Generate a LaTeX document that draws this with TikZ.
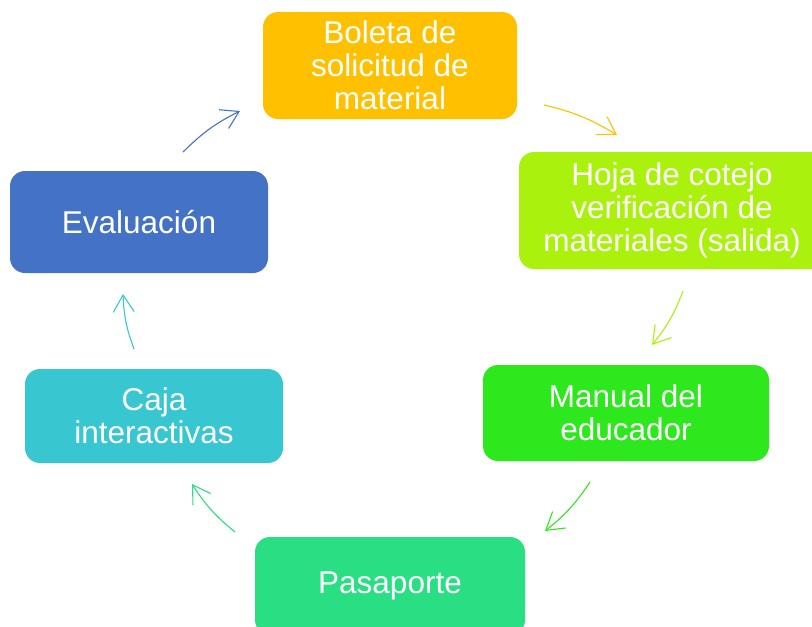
\documentclass[tikz,border=0pt]{standalone}
\usepackage{fontspec}
\setmainfont{Liberation Sans}
\usetikzlibrary{arrows.meta}
\definecolor{boleta}{RGB}{255,192,0}
\definecolor{hoja}{RGB}{170,242,14}
\definecolor{manual}{RGB}{46,232,30}
\definecolor{pasaporte}{RGB}{42,222,132}
\definecolor{caja}{RGB}{56,198,208}
\definecolor{evaluacion}{RGB}{68,114,196}
\begin{document}
\begin{tikzpicture}[x=1pt,y=-1pt,
  paso/.style={rounded corners=15pt, text=white, align=center, inner sep=0pt,
    font=\fontsize{31.5}{33}\selectfont},
  flecha/.style={line width=1.1pt, -{Straight Barb[length=17pt,width=21pt]}, bend left=9}]
\useasboundingbox (0,0) rectangle (812,627);
% pasos del ciclo
\node[paso, fill=boleta, minimum width=254pt, minimum height=107pt] (boleta) at (390,65.5) {Boleta de\\solicitud de\\material};
\node[paso, fill=hoja, minimum width=306pt, minimum height=117pt] (hoja) at (672,210.5) {Hoja de cotejo\\verificación de\\materiales (salida)};
\node[paso, fill=manual, minimum width=286pt, minimum height=96pt] (manual) at (626,413) {Manual del\\educador};
\node[paso, fill=pasaporte, minimum width=270pt, minimum height=98pt] (pasaporte) at (390,586) {Pasaporte};
\node[paso, fill=caja, minimum width=258pt, minimum height=94pt] (caja) at (154,416) {Caja\\interactivas};
\node[paso, fill=evaluacion, minimum width=258pt, minimum height=102pt] (evaluacion) at (139,222) {Evaluación};
% extremos de las flechas
\coordinate (b1) at (544,105);
\coordinate (b2) at (617,135);
\coordinate (h1) at (683,291);
\coordinate (h2) at (652,345);
\coordinate (m1) at (590,482);
\coordinate (m2) at (545,531);
\coordinate (p1) at (235,532);
\coordinate (p2) at (192,484);
\coordinate (c1) at (134,349);
\coordinate (c2) at (123,294);
\coordinate (e1) at (183,152);
\coordinate (e2) at (240,111);
\draw[flecha, boleta] (b1) to (b2);
\draw[flecha, hoja] (h1) to (h2);
\draw[flecha, manual] (m1) to (m2);
\draw[flecha, pasaporte] (p1) to (p2);
\draw[flecha, caja] (c1) to (c2);
\draw[flecha, evaluacion] (e1) to (e2);
\end{tikzpicture}
\end{document}
